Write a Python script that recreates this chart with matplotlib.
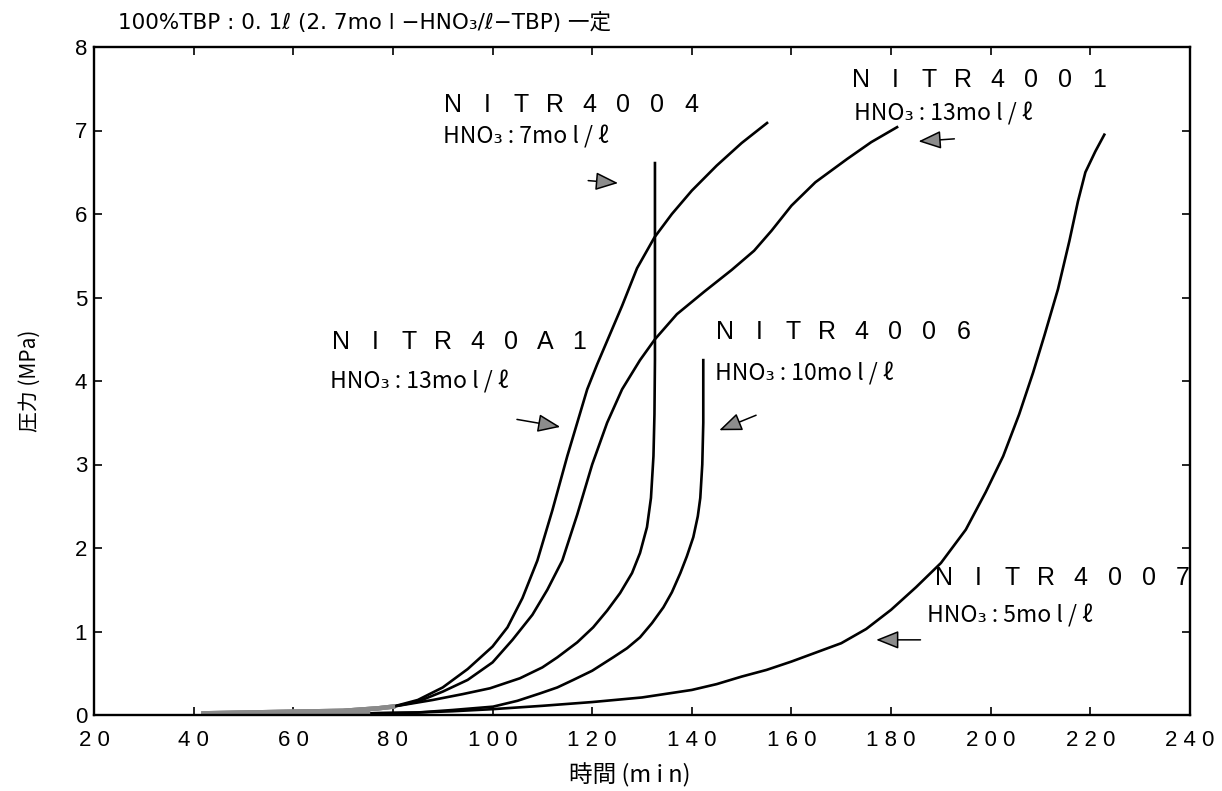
import matplotlib
matplotlib.use("Agg")
from matplotlib import pyplot as plt

# pressure (MPa) vs time (min)
t_40a1 = [42, 60, 70, 77, 80, 85, 90, 95, 100, 103, 106, 109, 112, 115, 117,
          119, 121, 123.5, 126, 129, 132.5, 136, 140, 145, 150, 155.1]
p_40a1 = [0.02, 0.04, 0.05, 0.08, 0.1, 0.18, 0.33, 0.55, 0.82, 1.05, 1.4, 1.85,
          2.45, 3.1, 3.5, 3.9, 4.2, 4.55, 4.9, 5.35, 5.72, 6.0, 6.28, 6.58, 6.85,
          7.09]

t_4001 = [42, 60, 70, 77, 80, 85, 90, 95, 100, 104, 108, 111, 114, 117, 120, 123,
          126, 129.6, 132.6, 137, 142.5, 148, 152.5, 156, 160, 164.8, 171.2, 176,
          181.2]
p_4001 = [0.02, 0.04, 0.05, 0.08, 0.1, 0.16, 0.28, 0.42, 0.63, 0.9, 1.2, 1.5,
          1.85, 2.4, 3.0, 3.5, 3.9, 4.25, 4.5, 4.8, 5.07, 5.33, 5.56, 5.8, 6.1,
          6.38, 6.66, 6.86, 7.04]

t_4004 = [42, 60, 70, 77, 80, 88, 94, 99.5, 105.5, 110, 113, 117, 120.2, 123,
          125.6, 128, 129.6, 131, 131.8, 132.3, 132.5, 132.6, 132.6]
p_4004 = [0.02, 0.04, 0.05, 0.08, 0.1, 0.18, 0.25, 0.32, 0.44, 0.57, 0.69, 0.87,
          1.05, 1.25, 1.46, 1.7, 1.94, 2.25, 2.6, 3.1, 3.6, 4.25, 6.61]

t_4006 = [42, 60, 75, 85, 92, 100.1, 105, 109.6, 113, 116.2, 120, 124.2, 127,
          129.6, 132, 134.3, 136, 137.7, 139, 140.3, 141.2, 141.7, 142.1, 142.3,
          142.3]
p_4006 = [0.0, 0.01, 0.02, 0.03, 0.06, 0.10, 0.17, 0.26, 0.33, 0.42, 0.53, 0.69,
          0.8, 0.93, 1.1, 1.29, 1.47, 1.7, 1.9, 2.13, 2.38, 2.6, 3.0, 3.5, 4.25]

t_4007 = [42, 60, 75, 85, 92, 100, 110, 120, 130, 140, 145, 150, 155, 160, 165,
          170, 175, 180, 185, 190, 195, 199, 202.5, 205.7, 208.5, 210.8, 213.5,
          215.8, 217.5, 219, 221, 222.8]
p_4007 = [0.0, 0.01, 0.02, 0.03, 0.045, 0.07, 0.11, 0.155, 0.21, 0.3, 0.37, 0.46,
          0.54, 0.64, 0.75, 0.86, 1.03, 1.26, 1.53, 1.82, 2.22, 2.67, 3.1, 3.6,
          4.1, 4.55, 5.1, 5.68, 6.15, 6.5, 6.75, 6.95]

run_names = ["NITR40A1", "NITR4001", "NITR4004", "NITR4006", "NITR4007"]
acid_labels = ["HNO₃ : 13mo l / ℓ", "HNO₃ : 13mo l / ℓ", "HNO₃ : 7mo l / ℓ",
               "HNO₃ : 10mo l / ℓ", "HNO₃ : 5mo l / ℓ"]

# label anchors: (x of first char centre, y of name) and (x, y) of acid line
name_pos = [(69.6, 4.47), (174.0, 7.60), (92.1, 7.31), (146.7, 4.59), (190.7, 1.64)]
acid_pos = [(67.4, 3.99), (172.6, 7.20), (90.1, 6.92), (144.7, 4.09), (187.3, 1.19)]
pitch = 24.5  # points between spaced-out characters

# arrows: (tail x, tail y, tip x, tip y)
arrows = [(104.9, 3.54, 113.6, 3.45), (192.7, 6.90, 185.5, 6.87),
          (119.2, 6.40, 125.2, 6.37), (152.9, 3.59, 145.5, 3.41),
          (185.9, 0.90, 177.0, 0.90)]

x_ticks = list(range(20, 241, 20))
y_ticks = list(range(0, 9))

cjk = ["Noto Sans CJK JP", "DejaVu Sans"]
latin = ["Liberation Sans", "Noto Sans CJK JP", "DejaVu Sans"]

fig = plt.figure(figsize=(12.22, 7.91), dpi=100)
ax = fig.add_axes([94 / 1222, 76 / 791, 1096 / 1222, 668 / 791])

series = [(t_40a1, p_40a1), (t_4001, p_4001), (t_4004, p_4004),
          (t_4006, p_4006), (t_4007, p_4007)]
for t, p in series:
    ax.plot(t, p, color="black", lw=1.9, solid_joinstyle="round")
    # the overlapping start of the runs shows as a grey smear in the scan
    early = [i for i, v in enumerate(t) if v <= 80]
    ax.plot([t[i] for i in early], [p[i] for i in early], color="#8a8a8a", lw=3.2)

ax.set_xlim(20, 240)
ax.set_ylim(0, 8)
ax.set_xticks(x_ticks)
ax.set_xticklabels([" ".join(str(v)) for v in x_ticks], family=latin, fontsize=16)
ax.set_yticks(y_ticks)
ax.set_yticklabels([str(v) for v in y_ticks], family=latin, fontsize=16)
ax.tick_params(direction="in", length=6, width=1.2, top=True, right=True)
ax.tick_params(axis="x", pad=11)
ax.tick_params(axis="y", pad=5)
for s in ax.spines.values():
    s.set_linewidth(1.7)

for name, (x0, y0) in zip(run_names, name_pos):
    for k, ch in enumerate(name):
        ax.annotate(ch, (x0, y0), xytext=(k * pitch, 0), textcoords="offset points",
                    ha="center", va="center", fontsize=18, family=latin)

for txt, (x0, y0) in zip(acid_labels, acid_pos):
    ax.text(x0, y0, txt, ha="left", va="center", fontsize=16.5, family=cjk)

for x1, y1, x2, y2 in arrows:
    ax.annotate("", xy=(x2, y2), xytext=(x1, y1),
                arrowprops=dict(arrowstyle="-|>,head_length=0.7,head_width=0.28",
                                fc="#8c8c8c", ec="black", lw=1.1, mutation_scale=20,
                                shrinkA=0, shrinkB=0))

fig.text(118 / 1222, 1 - 22 / 791, "100%TBP : 0. 1ℓ (2. 7mo l −HNO₃/ℓ−TBP) 一定",
         ha="left", va="center", fontsize=15.5,
         family=["DejaVu Sans", "Noto Sans CJK JP"])
fig.text(30 / 1222, 1 - 381 / 791, "圧力 (MPa)", rotation=90, ha="center",
         va="center", fontsize=15, family=cjk)
fig.text(630 / 1222, 1 - 775 / 791, "時間 (m i n)", ha="center", va="center",
         fontsize=17, family=cjk)

fig.savefig("out.png", dpi=100)
